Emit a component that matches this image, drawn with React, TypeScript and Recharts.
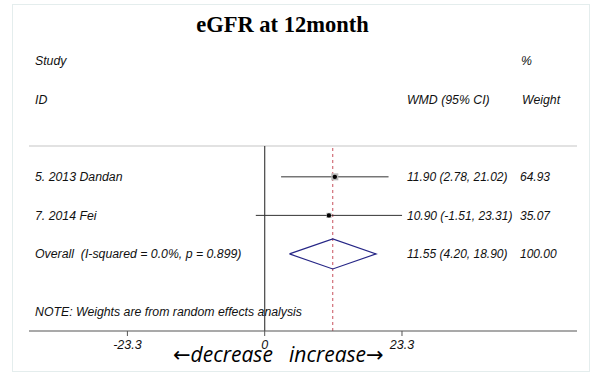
import React from 'react';
import { ComposedChart, XAxis, YAxis, Scatter, Line, ReferenceLine } from 'recharts';

// study rows
const studies = ['5. 2013 Dandan', '7. 2014 Fei'];
const wmd = [11.9, 10.9];
const lower = [2.78, -1.51];
const upper = [21.02, 23.31];
const weights = [64.93, 35.07];

// pooled estimate
const overallLabel = 'Overall  (I-squared = 0.0%, p = 0.899)';
const overallWmd = 11.55;
const overallLower = 4.2;
const overallUpper = 18.9;
const overallWeight = 100.0;

const xTicks = [-23.3, 0, 23.3];

const W = 598;
const H = 375;
const X_DOMAIN = [-40, 53];
const Y_DOMAIN = [0.2, 5.0];
const DIAMOND_HALF = 0.39;
const TEXT = '#111';
const SANS = '"Liberation Sans", Arial, sans-serif';

const studyRows = studies.map((s, i) => ({
  x: wmd[i],
  y: i + 1,
  w: weights[i],
  label: s,
  ci: `${wmd[i].toFixed(2)} (${lower[i].toFixed(2)}, ${upper[i].toFixed(2)})`,
  weight: weights[i].toFixed(2),
}));

const overallRow = {
  x: overallWmd,
  y: studies.length + 1,
  label: overallLabel,
  ci: `${overallWmd.toFixed(2)} (${overallLower.toFixed(2)}, ${overallUpper.toFixed(2)})`,
  weight: overallWeight.toFixed(2),
};

const textRows = [...studyRows, overallRow];

const noteRow = [{ x: 0, y: 4.51, label: 'NOTE: Weights are from random effects analysis' }];

const diamond = [
  { x: overallLower, y: overallRow.y },
  { x: overallWmd, y: overallRow.y - DIAMOND_HALF },
  { x: overallUpper, y: overallRow.y },
  { x: overallWmd, y: overallRow.y + DIAMOND_HALF },
  { x: overallLower, y: overallRow.y },
];

const textStyle: React.CSSProperties = {
  fontFamily: SANS,
  fontStyle: 'italic',
  fontSize: 12,
  fill: TEXT,
  whiteSpace: 'pre',
};

const RowText = (props: any) => {
  const { cy, payload } = props;
  return (
    <g>
      <text x={35} y={cy} dy="0.35em" style={{ ...textStyle, fontSize: 12.3 }}>{payload.label}</text>
      <text x={407} y={cy} dy="0.35em" style={textStyle}>{payload.ci}</text>
      <text x={520} y={cy} dy="0.35em" style={textStyle}>{payload.weight}</text>
    </g>
  );
};

const NoteText = (props: any) => (
  <text x={35} y={props.cy} dy="0.35em" style={{ ...textStyle, fontSize: 12.3 }}>{props.payload.label}</text>
);

const StudyMarker = (props: any) => {
  const { cx, cy, payload } = props;
  const side = 0.87 * Math.sqrt(payload.w);
  return (
    <g>
      <rect x={cx - side / 2} y={cy - side / 2} width={side} height={side} fill="#b8b8b8" />
      <circle cx={cx} cy={cy} r={2.2} fill="#000" />
    </g>
  );
};

const header = (text: string, left: number, top: number) => (
  <div
    style={{
      position: 'absolute',
      left,
      top,
      fontFamily: SANS,
      fontStyle: 'italic',
      fontSize: 12.3,
      color: TEXT,
      lineHeight: '14px',
      whiteSpace: 'nowrap',
    }}
  >
    {text}
  </div>
);

const arrowText: React.CSSProperties = {
  position: 'absolute',
  top: 340,
  fontFamily: '"Open Sans", "DejaVu Sans", sans-serif',
  fontStyle: 'italic',
  fontSize: 21,
  lineHeight: '28px',
  color: '#000',
  whiteSpace: 'nowrap',
};

export default function App() {
  return (
    <div style={{ position: 'absolute', left: 0, top: 0, width: W, height: H, background: '#fff' }}>
      <div
        style={{
          position: 'absolute',
          left: 12,
          top: 4,
          width: 576,
          height: 366,
          border: '1px solid #e4eded',
        }}
      />
      <div
        style={{
          position: 'absolute',
          left: 0,
          width: 565,
          top: 10,
          textAlign: 'center',
          fontFamily: '"Liberation Serif", "Times New Roman", serif',
          fontWeight: 'bold',
          fontSize: 22.5,
          lineHeight: '30px',
          color: '#000',
        }}
      >
        eGFR at 12month
      </div>
      {header('Study', 35, 54)}
      {header('%', 521, 54)}
      {header('ID', 35, 93)}
      {header('WMD (95% CI)', 407, 93)}
      {header('Weight', 522, 93)}

      <ComposedChart
        width={W}
        height={H}
        margin={{ top: 146, right: 21, bottom: 14, left: 29 }}
        style={{ position: 'absolute', left: 0, top: 0 }}
      >
        <XAxis
          dataKey="x"
          type="number"
          domain={X_DOMAIN}
          allowDataOverflow
          ticks={xTicks}
          tickFormatter={(v: number) => String(v)}
          height={30}
          tickSize={5}
          tickMargin={4}
          axisLine={{ stroke: '#555', strokeWidth: 1.2 }}
          tickLine={{ stroke: '#555' }}
          tick={{ fontFamily: SANS, fontStyle: 'italic', fontSize: 12.5, fill: TEXT }}
        />
        <YAxis dataKey="y" type="number" domain={Y_DOMAIN} reversed hide width={0} allowDataOverflow />
        <ReferenceLine y={Y_DOMAIN[0]} stroke="#d9d9d9" strokeWidth={1.5} />
        <ReferenceLine x={0} stroke="#444" strokeWidth={1.2} />
        <ReferenceLine x={overallWmd} stroke="#c8505c" strokeDasharray="3 3" strokeWidth={1} />
        {studyRows.map((r, i) => (
          <ReferenceLine
            key={`ci-${i}`}
            segment={[
              { x: lower[i], y: r.y },
              { x: upper[i], y: r.y },
            ]}
            stroke="#333"
            strokeWidth={1}
          />
        ))}
        <Line
          data={diamond}
          dataKey="y"
          stroke="#262686"
          strokeWidth={1.2}
          dot={false}
          activeDot={false}
          isAnimationActive={false}
        />
        <Scatter data={studyRows} dataKey="y" shape={StudyMarker} isAnimationActive={false} />
        <Scatter data={textRows} dataKey="y" shape={RowText} isAnimationActive={false} />
        <Scatter data={noteRow} dataKey="y" shape={NoteText} isAnimationActive={false} />
      </ComposedChart>

      <div style={{ ...arrowText, left: 173 }}>←decrease</div>
      <div style={{ ...arrowText, left: 289 }}>increase→</div>
    </div>
  );
}
